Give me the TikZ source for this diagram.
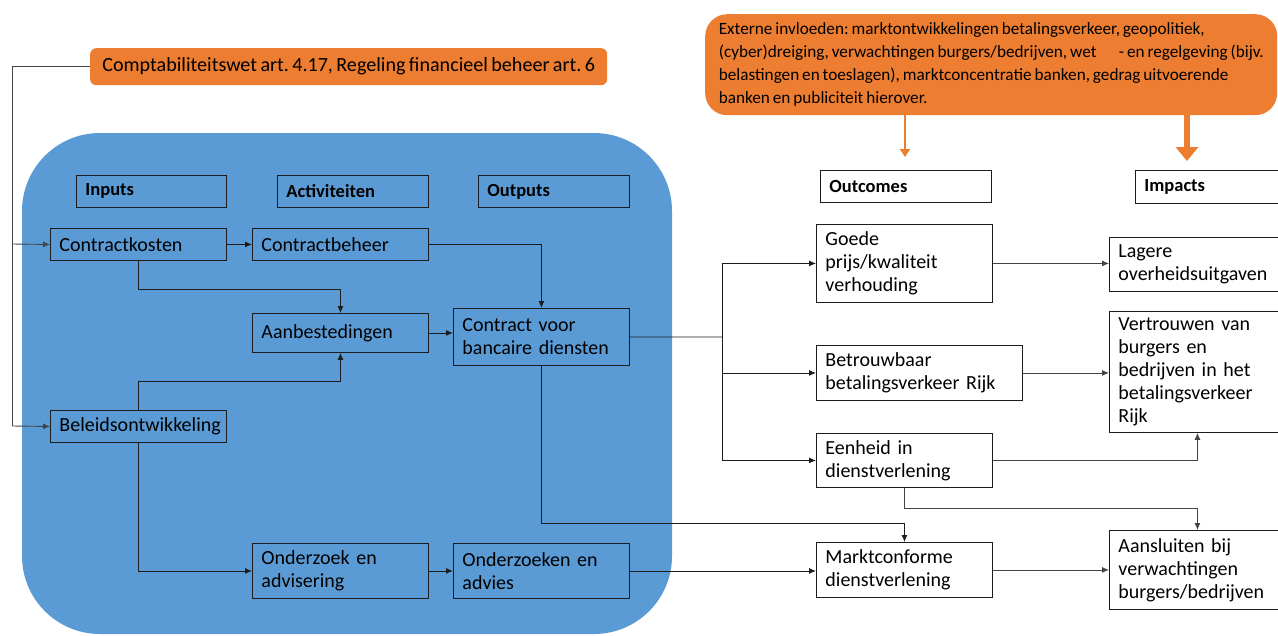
\documentclass[tikz,border=0pt]{standalone}
\usepackage{fontspec}
\setmainfont{Carlito}[WordSpace=0.75]
\usetikzlibrary{arrows.meta}
\definecolor{org}{HTML}{ED7D31}
\definecolor{blu}{HTML}{5B9BD5}
\definecolor{lnc}{HTML}{1C1C1C}
\definecolor{lng}{HTML}{444444}
\frenchspacing
\hyphenpenalty=10000
\exhyphenpenalty=10000
\tikzset{
  bx/.style={draw=lnc, line width=0.9pt, anchor=north west, align=left,
    inner xsep=9pt, inner ysep=0pt, minimum width=176pt, text width=158pt,
    font=\fontsize{20}{23}\selectfont},
  wbx/.style={bx, fill=white},
  hdr/.style={bx, font=\fontsize{18.5}{22}\selectfont\bfseries},
  arr/.style={draw=lnc, line width=0.9pt, -{Latex[length=7pt,width=6pt]}},
  arrg/.style={draw=lng, line width=0.9pt, -{Latex[length=7pt,width=6pt]}},
  lin/.style={draw=lnc, line width=0.9pt},
  linr/.style={draw=lng, line width=0.9pt},
  obox/.style={fill=org, anchor=north west, align=left, inner xsep=0pt, inner ysep=0pt}
}
\begin{document}
\begin{tikzpicture}[x=1pt,y=-1pt]
\useasboundingbox (0,0) rectangle (1278,635);
\fill[white] (0,0) rectangle (1278,635);
% blue area
\fill[blu, rounded corners=78pt] (22,133) rectangle (672,634);

% orange boxes
\node[obox, rounded corners=6pt, minimum width=517pt, minimum height=37pt,
  font=\fontsize{20.1}{22}\selectfont] (o1) at (90,48)
  {Comptabiliteitswet art. 4.17, Regeling financieel beheer art. 6};
\node[obox, rounded corners=22pt, minimum width=572pt, minimum height=101pt,
  font=\fontsize{17.2}{23}\selectfont] (o2) at (705,14)
  {Externe invloeden: marktontwikkelingen betalingsverkeer, geopolitiek,\\
   (cyber)dreiging, verwachtingen burgers/bedrijven, wet\hspace{1.3em}- en regelgeving (bijv.\\
   belastingen en toeslagen), marktconcentratie banken, gedrag uitvoerende\\
   banken en publiciteit hierover.};
\coordinate (a1) at (905,157);
\coordinate (a2) at (1187,161);
\draw[org, line width=2.5pt, -{Triangle[length=8pt,width=10pt]}] (o2.south -| a1) -- (a1);
\draw[org, line width=6pt, -{Triangle[length=14pt,width=22pt]}] (o2.south -| a2) -- (a2);

% headers
\node[hdr, minimum width=150pt, text width=132pt, minimum height=32pt] (hin) at (76,175) {Inputs};
\node[hdr, minimum width=151pt, text width=133pt, minimum height=32pt] (hac) at (277,175) {Activiteiten};
\node[hdr, minimum width=151pt, text width=133pt, minimum height=32pt] (hou) at (478,175) {Outputs};
\node[hdr, fill=white, minimum width=171pt, text width=153pt, minimum height=32pt] (hoc) at (820,170) {Outcomes};
\node[hdr, fill=white, minimum width=171pt, text width=153pt, minimum height=33pt] (him) at (1135,170) {Impacts};

% blue area boxes
\node[bx, minimum height=32pt] (ck) at (50,228) {Contractkosten};
\node[bx, minimum height=32pt] (cb) at (252,228) {Contractbeheer};
\node[bx, minimum height=39pt] (ab) at (252,313) {Aanbestedingen};
\node[bx, minimum height=57pt] (cv) at (453,308) {Contract voor\\bancaire diensten};
\node[bx, minimum height=32pt] (bo) at (50,410) {Beleidsontwikkeling};
\node[bx, minimum height=55pt] (oa) at (252,543) {Onderzoek en\\advisering};
\node[bx, minimum height=55pt] (oz) at (453,543) {Onderzoeken en\\advies};

% outcomes
\node[wbx, minimum height=78pt] (gp) at (816,224) {Goede\\prijs/kwaliteit\\verhouding};
\node[wbx, minimum width=206pt, text width=188pt, minimum height=55pt] (bb) at (816,345) {Betrouwbaar\\betalingsverkeer Rijk};
\node[wbx, minimum height=54pt] (eh) at (816,433) {Eenheid in\\dienstverlening};
\node[wbx, minimum height=55pt] (mc) at (816,542) {Marktconforme\\dienstverlening};

% impacts
\node[wbx, minimum height=54pt] (lo) at (1109,237) {Lagere\\overheidsuitgaven};
\node[wbx, minimum height=121pt] (vb) at (1109,311) {Vertrouwen van\\burgers en\\bedrijven in het\\betalingsverkeer\\Rijk};
\node[wbx, minimum height=79pt] (as) at (1109,530) {Aansluiten bij\\verwachtingen\\burgers/bedrijven};

% left feed line
\coordinate (lb) at (12,426);
\coordinate (lk) at (12,244);
\draw[linr] (o1.west) -| (lb);
\draw[arrg] (lb) -- (bo.west);
\draw[arrg] (lk) -- (ck.west);

% blue area connectors
\draw[arr] (ck.east) -- (cb.west);
\draw[arr] (ck.south) -- ++(0,29) -| (ab.north);
\draw[arr] (cb.east) -| (cv.north);
\draw[arr] (ab.east) -- (ab.east -| cv.west);
\draw[arr] (bo.north) -- ++(0,-29) -| (ab.south);
\draw[arr] (bo.south) |- (oa.west);
\draw[arr] (oa.east) -- (oa.east -| oz.west);

% outputs to outcomes
\coordinate (j) at (722,337);
\draw[lin] (cv.east) -- (j);
\draw[arr] (j) |- (gp.west);
\draw[arr] (j) |- (bb.west);
\draw[arr] (j) |- (eh.west);
\draw[arr] (cv.south) -- ++(0,158) -| (mc.north);
\draw[arr] (oz.east) -- (oz.east -| mc.west);

% outcomes to impacts
\draw[arrg] (gp.east) -- (gp.east -| lo.west);
\draw[arrg] (bb.east) -- (bb.east -| vb.west);
\draw[arrg] (eh.east) -| (vb.south);
\draw[arrg] (eh.south) -- ++(0,21) -| (as.north);
\draw[arrg] (mc.east) -- (mc.east -| as.west);
\end{tikzpicture}
\end{document}
